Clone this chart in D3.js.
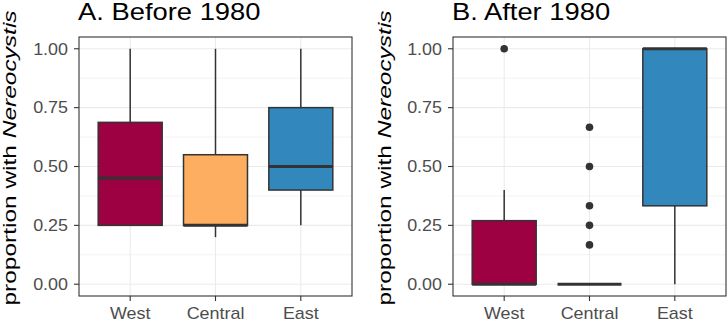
<!DOCTYPE html>
<html lang="en">
<head>
  <meta charset="UTF-8" />
  <title>Nereocystis before / after 1980</title>
  <script src="https://cdn.jsdelivr.net/npm/d3@7/dist/d3.min.js"></script>
  <style>
    html, body { margin: 0; padding: 0; background: #fff; }
    svg { display: block; font-family: "Liberation Sans", Arial, sans-serif; }
  </style>
</head>
<body>
  <div id="chart"></div>
  <script>
    // data
    const regions = ["West", "Central", "East"];
    const regionColors = ["#9E0142", "#FDAE61", "#3288BD"];
    const yTicks = [0, 0.25, 0.5, 0.75, 1];
    const yTickLabels = ["0.00", "0.25", "0.50", "0.75", "1.00"];

    // A. Before 1980
    const beforeLow    = [0.25, 0.20, 0.25];
    const beforeQ1     = [0.25, 0.25, 0.40];
    const beforeMedian = [0.45, 0.25, 0.50];
    const beforeQ3     = [0.6875, 0.55, 0.75];
    const beforeHigh   = [1.00, 1.00, 1.00];
    const beforeOutliers = [[], [], []];

    // B. After 1980
    const afterLow    = [0, 0, 0];
    const afterQ1     = [0, 0, 0.333];
    const afterMedian = [0, 0, 1.00];
    const afterQ3     = [0.27, 0, 1.00];
    const afterHigh   = [0.40, 0, 1.00];
    const afterOutliers = [[1.00], [0.667, 0.5, 0.333, 0.25, 0.167], []];

    const W = 727, H = 321;
    const plotTop = 37, plotBottom = 296;
    const ink = "#333333";

    const svg = d3.select("#chart").append("svg")
      .attr("width", W).attr("height", H);

    // stretched text, the reference font renders wide
    function stretchText(parent, x, y, str, size, k, anchor, rot) {
      const t = parent.append("text")
        .attr("transform", `translate(${x},${y})` + (rot ? ` rotate(${rot})` : "") + ` scale(${k},1)`)
        .attr("font-size", size)
        .attr("text-anchor", anchor);
      return t.text(str);
    }

    function drawPanel(opts) {
      const { left, right, title, low, q1, med, q3, high, outliers, labelX } = opts;
      const g = svg.append("g");

      const y = d3.scaleLinear().domain([-0.05, 1.05]).range([plotBottom, plotTop]);
      const x = d3.scalePoint().domain(regions).range([left, right]).padding(0.6);
      const boxW = x.step() * 0.75;

      // panel grid
      const minor = [0.125, 0.375, 0.625, 0.875];
      g.selectAll(".minor").data(minor).enter().append("line")
        .attr("x1", left).attr("x2", right)
        .attr("y1", d => y(d)).attr("y2", d => y(d))
        .attr("stroke", "#ebebeb").attr("stroke-width", 0.6);
      g.selectAll(".majorY").data(yTicks).enter().append("line")
        .attr("x1", left).attr("x2", right)
        .attr("y1", d => y(d)).attr("y2", d => y(d))
        .attr("stroke", "#ebebeb").attr("stroke-width", 1.1);
      g.selectAll(".majorX").data(regions).enter().append("line")
        .attr("x1", d => x(d)).attr("x2", d => x(d))
        .attr("y1", plotTop).attr("y2", plotBottom)
        .attr("stroke", "#ebebeb").attr("stroke-width", 1.1);

      const rows = regions.map((r, i) => ({
        region: r, color: regionColors[i],
        low: low[i], q1: q1[i], med: med[i], q3: q3[i], high: high[i], out: outliers[i]
      }));

      // whiskers
      rows.forEach(d => {
        g.append("line")
          .attr("x1", x(d.region)).attr("x2", x(d.region))
          .attr("y1", y(d.q3)).attr("y2", y(d.high))
          .attr("stroke", ink).attr("stroke-width", 1.5);
        g.append("line")
          .attr("x1", x(d.region)).attr("x2", x(d.region))
          .attr("y1", y(d.q1)).attr("y2", y(d.low))
          .attr("stroke", ink).attr("stroke-width", 1.5);
      });

      // boxes
      g.selectAll(".box").data(rows).enter().append("rect")
        .attr("x", d => x(d.region) - boxW / 2)
        .attr("width", boxW)
        .attr("y", d => y(d.q3))
        .attr("height", d => y(d.q1) - y(d.q3))
        .attr("fill", d => d.color)
        .attr("stroke", ink).attr("stroke-width", 1.5);

      // medians
      g.selectAll(".med").data(rows).enter().append("line")
        .attr("x1", d => x(d.region) - boxW / 2)
        .attr("x2", d => x(d.region) + boxW / 2)
        .attr("y1", d => y(d.med)).attr("y2", d => y(d.med))
        .attr("stroke", ink).attr("stroke-width", 3);

      // outliers
      rows.forEach(d => {
        g.selectAll(null).data(d.out).enter().append("circle")
          .attr("cx", x(d.region)).attr("cy", v => y(v))
          .attr("r", 3.8).attr("fill", ink);
      });

      // border
      g.append("rect")
        .attr("x", left).attr("y", plotTop)
        .attr("width", right - left).attr("height", plotBottom - plotTop)
        .attr("fill", "none").attr("stroke", ink).attr("stroke-width", 1.1);

      // y axis ticks + labels
      yTicks.forEach((v, i) => {
        g.append("line")
          .attr("x1", left - 5).attr("x2", left)
          .attr("y1", y(v)).attr("y2", y(v))
          .attr("stroke", ink).attr("stroke-width", 1.1);
        stretchText(g, left - 11, y(v) + 5.8, yTickLabels[i], 16, 1.12, "end")
          .attr("fill", "#4d4d4d");
      });

      // x axis ticks + labels
      regions.forEach(r => {
        g.append("line")
          .attr("x1", x(r)).attr("x2", x(r))
          .attr("y1", plotBottom).attr("y2", plotBottom + 5)
          .attr("stroke", ink).attr("stroke-width", 1.1);
        stretchText(g, x(r), 318.5, r, 16, 1.12, "middle")
          .attr("fill", "#4d4d4d");
      });

      // y axis title
      const lab = stretchText(g, labelX, 158, "", 17.5, 1.4, "middle", -90)
        .attr("fill", "#000");
      lab.append("tspan").text("proportion with ");
      lab.append("tspan").attr("font-style", "italic").text("Nereocystis");

      // panel title
      stretchText(g, left - 1, 20, title, 23, 1.19, "start").attr("fill", "#000");
    }

    drawPanel({
      left: 79, right: 352, title: "A. Before 1980", labelX: 16,
      low: beforeLow, q1: beforeQ1, med: beforeMedian, q3: beforeQ3, high: beforeHigh,
      outliers: beforeOutliers
    });
    drawPanel({
      left: 453, right: 726, title: "B. After 1980", labelX: 391,
      low: afterLow, q1: afterQ1, med: afterMedian, q3: afterQ3, high: afterHigh,
      outliers: afterOutliers
    });
  </script>
</body>
</html>
